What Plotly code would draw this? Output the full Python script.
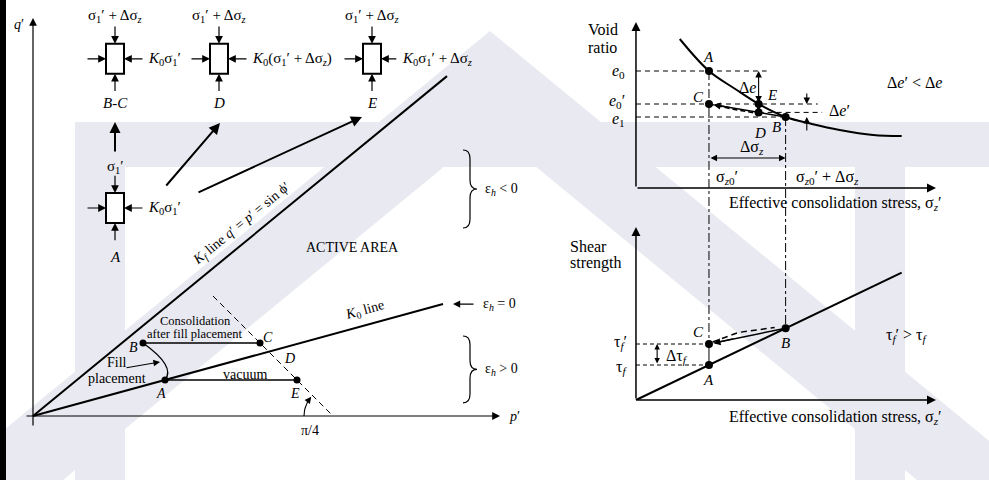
import numpy as np
import plotly.graph_objects as go

FONT = "Liberation Serif, Times New Roman, serif"
INK = "black"
LOGO = "#E9E9F1"

# ---------------- q'-p' stress-path diagram ----------------
K0_SLOPE = 0.273            # K0 line  q' = K0_SLOPE * p'
KF_SLOPE = 0.821            # Kf line
K0_END_P = 10.25
KF_END_P = 10.35
P_AXIS = [-0.2, 11.675]
Q_AXIS = [-0.275, 9.95]
PI4_P = 7.5                 # 45-degree line meets the p' axis here
PI4_TOP_P = 4.5
path_names = ["A", "B", "C", "D", "E"]
path_p = [3.3, 2.75, 5.675, 5.892, 6.6]
path_q = [0.9, 1.825, 1.825, 1.608, 0.9]

# stress elements drawn above the stress paths
elem_names = ["A", "B-C", "D", "E"]
elem_p = [2.05, 2.05, 4.65, 8.475]
elem_q = [5.2, 8.93, 8.93, 8.93]
elem_top = ["σ<sub>1</sub>′"] + ["σ<sub>1</sub>′ + Δσ<sub><i>z</i></sub>"] * 3
elem_side = ["<i>K</i><sub>0</sub>σ<sub>1</sub>′",
             "<i>K</i><sub>0</sub>σ<sub>1</sub>′",
             "<i>K</i><sub>0</sub>(σ<sub>1</sub>′ + Δσ<sub><i>z</i></sub>)",
             "<i>K</i><sub>0</sub>σ<sub>1</sub>′ + Δσ<sub><i>z</i></sub>"]

# ---------------- void ratio vs effective stress ----------------
curve_sig = [0.60, 1.00, 1.36, 1.68, 2.05, 2.41, 2.79, 3.25, 3.64]
curve_e = [1.49, 1.17, 0.99, 0.84, 0.71, 0.64, 0.58, 0.53, 0.52]
SIG0 = 1.0
SIG1 = 2.05
SIG_E = 1.68
E0 = 1.17
E0P = 0.84
E1 = 0.71
E_D = 0.756
SIG_AXIS_END = 4.11
E_AXIS_END = 1.66

# ---------------- shear strength vs effective stress ----------------
TAN_PHI = 0.35
TAU_LINE_END = 3.64
TAU_C = 0.56
TAU_AXIS_END = 1.73
PANEL_GAP = 2.12            # vertical offset between the two right-hand panels (in e units)

fig = go.Figure()
ann = []
shp = []


def line(xs, ys, xa="x", ya="y", w=1.2, dash="solid"):
    fig.add_trace(go.Scatter(x=xs, y=ys, xaxis=xa, yaxis=ya, mode="lines",
                             line=dict(color=INK, width=w, dash=dash),
                             hoverinfo="skip", showlegend=False))


def dots(xs, ys, xa="x", ya="y", size=7):
    fig.add_trace(go.Scatter(x=xs, y=ys, xaxis=xa, yaxis=ya, mode="markers",
                             marker=dict(color=INK, size=size),
                             hoverinfo="skip", showlegend=False))


def arrow(x, y, ax, ay, xa="x", ya="y", w=1.2, size=1.3, both=False):
    ann.append(dict(x=x, y=y, ax=ax, ay=ay, xref=xa, yref=ya, axref=xa, ayref=ya,
                    text="", showarrow=True, arrowhead=2, arrowsize=size,
                    arrowwidth=w, arrowcolor=INK, standoff=0, startstandoff=0,
                    arrowside="end+start" if both else "end",
                    startarrowhead=2, startarrowsize=size))


def text(x, y, s, xa="x", ya="y", size=14, anchor="center", angle=0):
    ann.append(dict(x=x, y=y, xref=xa, yref=ya, text=s, showarrow=False,
                    xanchor=anchor, yanchor="middle", textangle=angle,
                    font=dict(family=FONT, size=size, color=INK)))


# ---- faint background logo (paper coordinates, pixels from top-left) ----
def px_poly(pts):
    d = "M " + " L ".join(f"{x / 989:.4f},{1 - y / 480:.4f}" for x, y in pts) + " Z"
    shp.append(dict(type="path", path=d, xref="paper", yref="paper",
                    fillcolor=LOGO, line=dict(width=0), layer="below"))


# crossbar and side posts
px_poly([(75, 122), (989, 122), (989, 167), (75, 167)])
px_poly([(75, 122), (125, 122), (125, 480), (75, 480)])
px_poly([(855, 122), (905, 122), (905, 480), (855, 480)])
# large chevron
px_poly([(-57, 480), (490, 31), (1037, 480), (917, 480), (490, 129), (63, 480)])

# left black frame
shp.append(dict(type="rect", xref="paper", yref="paper", x0=0, x1=6 / 989, y0=0, y1=1,
                fillcolor=INK, line=dict(width=0)))

# ================= q'-p' diagram =================
arrow(P_AXIS[1], 0, P_AXIS[0], 0, w=1.2)
arrow(0, Q_AXIS[1], 0, Q_AXIS[0], w=1.2)
text(-0.36, 9.8, "<i>q</i>′")
text(11.85, 0, "<i>p</i>′", anchor="left")

line([0, KF_END_P], [0, KF_SLOPE * KF_END_P], w=2)
line([0, K0_END_P], [0, K0_SLOPE * K0_END_P], w=2)
line([PI4_TOP_P, PI4_P], [PI4_P - PI4_TOP_P, 0], w=1, dash="6px,4px")

iA, iB, iC, iD, iE = range(5)
line([path_p[iB], path_p[iC]], [path_q[iB], path_q[iC]], w=1.5)
line([path_p[iA], path_p[iE]], [path_q[iA], path_q[iE]], w=1.5)
dots([path_p[i] for i in (iA, iB, iC, iE)], [path_q[i] for i in (iA, iB, iC, iE)])

# fill placement arc B -> A
shp.append(dict(type="path", xref="x", yref="y",
                path=f"M {path_p[iB]},{path_q[iB]} Q 3.575,1.2375 {path_p[iA]},{path_q[iA]}",
                line=dict(color=INK, width=1.3)))
arrow(3.175, 1.35, 2.3, 1.2, w=1.1, size=1.2)
text(2.1, 1.33, "Fill")
text(2.1, 0.93, "placement")
text(4.05, 2.38, "Consolidation", size=12.5)
text(4.05, 2.05, "after fill placement", size=12.5)
text(5.3, 1.03, "vacuum")

for name, dx, dy in [("A", -0.1, -0.33), ("B", -0.25, -0.12), ("C", 0.2, 0.15),
                     ("D", 0.53, -0.16), ("E", -0.05, -0.33)]:
    i = path_names.index(name)
    text(path_p[i] + dx, path_q[i] + dy, f"<i>{name}</i>")

text(8.3, 2.64, "<i>K</i><sub>0</sub> line", angle=-np.degrees(np.arctan(K0_SLOPE)))
text(5.2, 4.8, "<i>K<sub>f</sub></i> line <i>q</i>′ = <i>p</i>′ = sin ϕ′",
     angle=-np.degrees(np.arctan(KF_SLOPE)))
text(7.98, 4.22, "ACTIVE AREA")

# 45-degree marker
th = np.linspace(np.pi, 0.77 * np.pi, 12)
line(list(PI4_P + 0.725 * np.cos(th[:-1])), list(0.725 * np.sin(th[:-1])), w=1.1)
arrow(PI4_P + 0.725 * np.cos(th[-1]), 0.725 * np.sin(th[-1]),
      PI4_P + 0.725 * np.cos(th[-3]), 0.725 * np.sin(th[-3]), w=1.1, size=1.2)
text(6.93, -0.36, "π/4")


# horizontal-strain braces
def brace(x0, ytop, ybot, w=0.35, d=0.22):
    xm, xt, ym = x0 + w / 2, x0 + w, (ytop + ybot) / 2
    p = (f"M {x0},{ytop} Q {xm},{ytop} {xm},{ytop - d} L {xm},{ym + d} "
         f"Q {xm},{ym} {xt},{ym} Q {xm},{ym} {xm},{ym - d} L {xm},{ybot + d} "
         f"Q {xm},{ybot} {x0},{ybot}")
    shp.append(dict(type="path", xref="x", yref="y", path=p,
                    line=dict(color=INK, width=1.2)))
    return xt, ym


bx, by = brace(10.75, 6.65, 4.7)
text(bx + 0.15, by, "ε<sub><i>h</i></sub> < 0", anchor="left")
bx, by = brace(10.75, 2.0, 0.33)
text(bx + 0.15, by, "ε<sub><i>h</i></sub> > 0", anchor="left")
arrow(10.5, K0_SLOPE * K0_END_P, 11.05, K0_SLOPE * K0_END_P, w=1.2, size=1.2)
text(11.2, K0_SLOPE * K0_END_P, "ε<sub><i>h</i></sub> = 0", anchor="left")

# stress elements
HW, HH = 0.225, 0.375
for k, name in enumerate(elem_names):
    cx, cy = elem_p[k], elem_q[k]
    shp.append(dict(type="rect", xref="x", yref="y", x0=cx - HW, x1=cx + HW,
                    y0=cy - HH, y1=cy + HH, line=dict(color=INK, width=2),
                    fillcolor="white"))
    arrow(cx, cy + HH, cx, cy + HH + 0.47)
    arrow(cx, cy - HH, cx, cy - HH - 0.47)
    arrow(cx - HW, cy, cx - HW - 0.5, cy)
    side_gap = 0.42 if name == "E" else 0.5
    arrow(cx + HW, cy, cx + HW + side_gap, cy)
    text(cx, cy + (1.03 if name == "A" else 1.08), elem_top[k], size=15)
    text(cx + HW + side_gap + 0.05, cy, elem_side[k], size=15, anchor="left")
    text(cx, cy - (1.22 if name == "A" else 1.1), f"<i>{name}</i>", size=15)

# transitions between elements
arrow(2.05, 7.35, 2.05, 6.575, w=2, size=1.1)
arrow(4.675, 7.325, 3.3, 5.725, w=2, size=1.1)
arrow(8.225, 7.475, 4.1, 5.575, w=2, size=1.1)

# ================= void ratio panel =================
X2, Y2, Y3 = "x2", "y2", "y3"
RS = 16        # text size on the right-hand panels
arrow(SIG_AXIS_END, 0, 0, 0, X2, Y2, w=1.5, size=1.2)
arrow(0, E_AXIS_END, 0, 0, X2, Y2, w=1.5, size=1.2)
line(curve_sig, curve_e, X2, Y2, w=2)
fig.data[-1].line.shape = "spline"

line([0, 1.79], [E0, E0], X2, Y2, w=1, dash="5px,4px")
line([0, 2.49], [E0P, E0P], X2, Y2, w=1, dash="5px,4px")
line([0, SIG1], [E1, E1], X2, Y2, w=1, dash="5px,4px")
line([SIG_E, 2.55], [E_D, E_D], X2, Y2, w=1, dash="5px,4px")
line([SIG0, SIG0], [E0, TAN_PHI * SIG0 - PANEL_GAP], X2, Y2, w=1, dash="dashdot")
line([SIG1, SIG1], [E1, TAN_PHI * SIG1 - PANEL_GAP], X2, Y2, w=1, dash="dashdot")

line([SIG_E, SIG_E], [E0P, E_D], X2, Y2, w=3)
line([SIG0, 1.35, SIG_E], [E0P, 0.785, E_D - 0.012], X2, Y2, w=1.5, dash="5px,3px")
line([SIG0 + 0.08, SIG1], [E0P - 0.01, E1], X2, Y2, w=1.5)
arrow(SIG0 + 0.06, E0P - 0.007, SIG0 + 0.3, E0P - 0.037, X2, Y2, w=1.3, size=1.1)
dots([SIG0, SIG0, SIG_E, SIG_E, SIG1], [E0, E0P, E0P, E_D, E1], X2, Y2, size=8)

arrow(SIG_E, E0, SIG_E, E0P, X2, Y2, w=1.1, size=1.2, both=True)
arrow(2.34, E0P, 2.34, 0.96, X2, Y2, w=1.1, size=1.2)
arrow(2.34, E1, 2.34, 0.56, X2, Y2, w=1.1, size=1.2)
arrow(SIG1, 0.30, SIG0, 0.30, X2, Y2, w=1.1, size=1.2, both=True)

text(-0.69, 1.59, "Void", X2, Y2, RS, "left")
text(-0.69, 1.41, "ratio", X2, Y2, RS, "left")
text(-0.12, E0, "<i>e</i><sub>0</sub>", X2, Y2, RS, "right")
text(-0.12, E0P + 0.025, "<i>e</i><sub>0</sub>′", X2, Y2, RS, "right")
text(-0.12, E1 - 0.02, "<i>e</i><sub>1</sub>", X2, Y2, RS, "right")
text(SIG0, 1.31, "<i>A</i>", X2, Y2, 15)
text(0.86, 0.91, "<i>C</i>", X2, Y2, 15)
text(1.86, 0.93, "<i>E</i>", X2, Y2, 15)
text(1.70, 0.55, "<i>D</i>", X2, Y2, 15)
text(1.93, 0.61, "<i>B</i>", X2, Y2, 15)
text(1.53, 1.01, "Δ<i>e</i>", X2, Y2, RS)
text(2.62, 0.78, "Δ<i>e</i>′", X2, Y2, RS, "left")
text(3.81, 1.06, "Δ<i>e</i>′ < Δ<i>e</i>", X2, Y2, RS)
text(1.59, 0.41, "Δσ<sub><i>z</i></sub>", X2, Y2, RS)
text(1.07, 0.11, "σ<sub><i>z</i>0</sub>′", X2, Y2, RS, "left")
text(2.16, 0.11, "σ<sub><i>z</i>0</sub>′ + Δσ<sub><i>z</i></sub>", X2, Y2, RS, "left")
text(2.74, -0.15, "Effective consolidation stress, σ<sub><i>z</i></sub>′", X2, Y2, RS)

# ================= shear strength panel =================
arrow(SIG_AXIS_END, 0, 0, 0, X2, Y3, w=1.5, size=1.2)
arrow(0, TAU_AXIS_END, 0, 0, X2, Y3, w=1.5, size=1.2)
line([0, TAU_LINE_END], [0, TAN_PHI * TAU_LINE_END], X2, Y3, w=2)
line([0, SIG0], [TAU_C, TAU_C], X2, Y3, w=1, dash="4px,3px")
line([0, SIG0], [TAN_PHI * SIG0, TAN_PHI * SIG0], X2, Y3, w=1, dash="4px,3px")
line([SIG0, SIG0], [TAN_PHI * SIG0, TAU_C], X2, Y3, w=1, dash="3px,3px")
line([SIG0 + 0.05, 1.4, 1.9], [TAU_C + 0.02, 0.675, 0.725], X2, Y3, w=1.5, dash="6px,4px")
line([SIG0 + 0.1, SIG1], [TAU_C + 0.015, TAN_PHI * SIG1], X2, Y3, w=1.5)
arrow(SIG0 + 0.06, TAU_C + 0.008, SIG0 + 0.35, TAU_C + 0.055, X2, Y3, w=1.3, size=1.1)
dots([SIG0, SIG0, SIG1], [TAN_PHI * SIG0, TAU_C, TAN_PHI * SIG1], X2, Y3, size=8)
arrow(0.29, TAU_C, 0.29, TAN_PHI * SIG0, X2, Y3, w=1.1, size=1.0, both=True)

text(-0.93, 1.54, "Shear", X2, Y3, RS, "left")
text(-0.93, 1.37, "strength", X2, Y3, RS, "left")
text(-0.1, TAU_C + 0.02, "τ<sub><i>f</i></sub>′", X2, Y3, RS, "right")
text(-0.1, TAN_PHI * SIG0 - 0.02, "τ<sub><i>f</i></sub>", X2, Y3, RS, "right")
text(0.38, 0.44, "Δτ<sub><i>f</i></sub>", X2, Y3, RS, "left")
text(0.86, 0.68, "<i>C</i>", X2, Y3, 15)
text(SIG0, 0.20, "<i>A</i>", X2, Y3, 15)
text(SIG1, 0.57, "<i>B</i>", X2, Y3, 15)
text(3.71, 0.65, "τ<sub><i>f</i></sub>′ > τ<sub><i>f</i></sub>", X2, Y3, RS)
text(2.74, -0.17, "Effective consolidation stress, σ<sub><i>z</i></sub>′", X2, Y3, RS)

hidden = dict(visible=False, fixedrange=True)
fig.update_layout(
    width=989, height=480, margin=dict(l=0, r=0, t=0, b=0),
    paper_bgcolor="white", plot_bgcolor="rgba(0,0,0,0)", showlegend=False,
    xaxis=dict(range=[-0.825, 23.9], domain=[0, 1], **hidden),
    yaxis=dict(range=[-1.6, 10.4], domain=[0, 1], **hidden),
    xaxis2=dict(range=[-8.712, 4.836], domain=[0, 1], overlaying="x", **hidden),
    yaxis2=dict(range=[-2.92, 1.88], domain=[0, 1], overlaying="y", anchor="x2", **hidden),
    yaxis3=dict(range=[-0.8, 4.0], domain=[0, 1], overlaying="y", anchor="x2", **hidden),
    annotations=ann, shapes=shp,
)
fig.write_html("out.html")
